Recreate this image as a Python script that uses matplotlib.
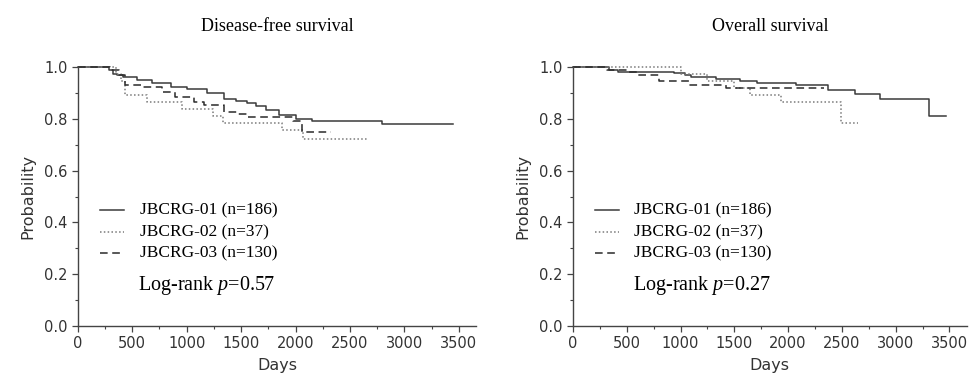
import matplotlib
matplotlib.use('Agg')
import matplotlib.pyplot as plt
import numpy as np

plt.rcParams['mathtext.fontset'] = 'custom'
plt.rcParams['mathtext.rm'] = 'Liberation Serif'
plt.rcParams['mathtext.it'] = 'Liberation Serif:italic'

serif = 'Liberation Serif'

# Disease-free survival (step curves: event days, survival after the step)
dfs01_t = [0, 290, 320, 360, 412, 540, 680, 860, 1000, 1190, 1345, 1450, 1555, 1640, 1730, 1850, 2004, 2150, 2790, 3450]
dfs01_s = [1.0, 0.99, 0.975, 0.968, 0.963, 0.952, 0.94, 0.925, 0.915, 0.90, 0.876, 0.868, 0.86, 0.848, 0.834, 0.815, 0.80, 0.79, 0.78, 0.78]
dfs02_t = [0, 350, 400, 430, 640, 960, 1240, 1330, 1880, 2070, 2655]
dfs02_s = [1.0, 0.973, 0.946, 0.892, 0.865, 0.838, 0.811, 0.784, 0.757, 0.721, 0.721]
dfs03_t = [0, 300, 380, 430, 585, 770, 890, 1070, 1160, 1345, 1465, 1560, 1980, 2060, 2330]
dfs03_s = [1.0, 0.99, 0.97, 0.93, 0.925, 0.905, 0.885, 0.866, 0.853, 0.827, 0.82, 0.808, 0.79, 0.75, 0.75]

# Overall survival
os01_t = [0, 338, 420, 940, 1040, 1100, 1330, 1550, 1710, 2075, 2370, 2625, 2850, 3310, 3465]
os01_s = [1.0, 0.99, 0.983, 0.977, 0.97, 0.96, 0.955, 0.945, 0.937, 0.93, 0.91, 0.896, 0.876, 0.81, 0.81]
os02_t = [0, 1000, 1250, 1500, 1650, 1930, 2490, 2650]
os02_s = [1.0, 0.973, 0.946, 0.919, 0.892, 0.865, 0.784, 0.784]
os03_t = [0, 320, 500, 600, 800, 1080, 1420, 2330]
os03_s = [1.0, 0.99, 0.98, 0.97, 0.945, 0.93, 0.92, 0.92]

labels = ['JBCRG-01 (n=186)', 'JBCRG-02 (n=37)', 'JBCRG-03 (n=130)']
titles = ['Disease-free survival', 'Overall survival']
pvals = ['0.57', '0.27']

styles = [dict(color='#3a3a3a', ls='-', lw=1.1),
          dict(color='#7a7a7a', ls=(0, (1, 1.5)), lw=1.1),
          dict(color='#2a2a2a', ls=(0, (5, 3)), lw=1.1)]

fig = plt.figure(figsize=(9.72, 3.88), dpi=100)
axes = [fig.add_axes([0.080, 0.160, 0.410, 0.667]),
        fig.add_axes([0.5895, 0.160, 0.405, 0.667])]

panels = [[(dfs01_t, dfs01_s), (dfs02_t, dfs02_s), (dfs03_t, dfs03_s)],
          [(os01_t, os01_s), (os02_t, os02_s), (os03_t, os03_s)]]

for ax, curves, title, p in zip(axes, panels, titles, pvals):
    for (t, s), st in zip(curves, styles):
        ax.step(t, s, where='post', clip_on=False, **st)
    ax.set_xlim(0, 3660)
    ax.set_ylim(0, 1.0)
    ax.set_xticks(np.arange(0, 3501, 500))
    ax.set_xticks(np.arange(0, 3660, 250), minor=True)
    ax.set_yticks(np.arange(0, 1.01, 0.2))
    ax.set_yticks(np.arange(0, 1.01, 0.1), minor=True)
    ax.yaxis.set_major_formatter(matplotlib.ticker.FormatStrFormatter('%.1f'))
    for side in ['top', 'right']:
        ax.spines[side].set_visible(False)
    for side in ['left', 'bottom']:
        ax.spines[side].set_color('#444444')
        ax.spines[side].set_linewidth(1.0)
    ax.tick_params(which='major', direction='out', length=4, width=0.9,
                   colors='#444444', labelcolor='#333333', labelsize=10.5)
    ax.tick_params(which='minor', direction='out', length=2.5, width=0.8, colors='#444444')
    ax.set_xlabel('Days', fontsize=11.5, color='#333333', labelpad=5)
    ax.set_ylabel('Probability', fontsize=11.5, color='#333333', labelpad=6)
    ax.set_title(title, family=serif, fontsize=13, pad=26)

    # legend drawn by hand
    ys = [0.448, 0.363, 0.282]
    for y, st, lab in zip(ys, styles, labels):
        ax.plot([0.055, 0.117], [y, y], transform=ax.transAxes, **st)
        ax.text(0.155, y, lab, transform=ax.transAxes, family=serif,
                fontsize=12.5, va='center', ha='left')
    ax.text(0.152, 0.158, 'Log-rank $p$=' + p, transform=ax.transAxes,
            family=serif, fontsize=14.5, va='center', ha='left')

fig.savefig('out.png', dpi=100)
